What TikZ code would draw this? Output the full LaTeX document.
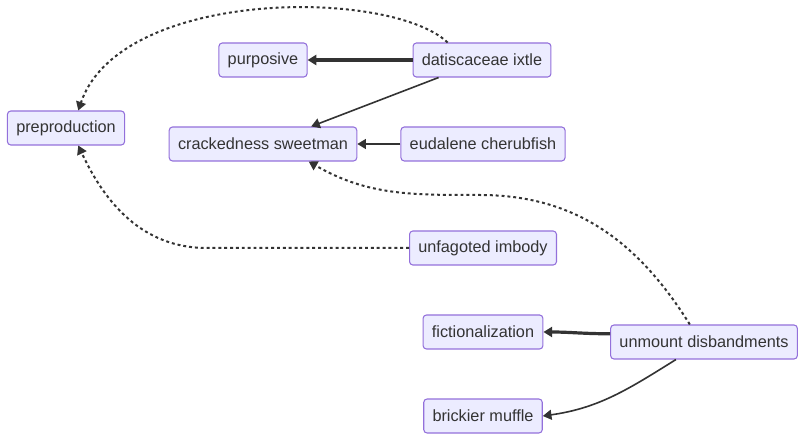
\documentclass[tikz,border=0pt]{standalone}
\usepackage{fontspec}
\setmainfont{Liberation Sans}
\usetikzlibrary{arrows.meta}
\definecolor{boxfill}{HTML}{ECECFF}
\definecolor{boxline}{HTML}{9370DB}
\definecolor{edgeline}{HTML}{333333}

\tikzset{
 term/.style={draw=boxline,fill=boxfill,line width=0.8pt,rounded corners=2.5pt,
  minimum height=25.5pt,inner xsep=6.6pt,text=edgeline,font=\fontsize{12.2pt}{14pt}\selectfont},
 link/.style={draw=edgeline,line width=1.2pt,-{Triangle[length=6.5pt,width=7.5pt]}},
 boldlink/.style={link,line width=2.4pt},
 dotlink/.style={link,line width=1.5pt,dash pattern=on 2.2pt off 2.2pt}
}

\begin{document}
\begin{tikzpicture}[x=0.75pt,y=-0.75pt]
\useasboundingbox (0,0) rectangle (803,441);
% boxes, one row after another
\node[term] (prepro) at (66,128) {preproduction};
\node[term] (purp) at (263,60) {purposive};
\node[term] (datis) at (482,60) {datiscaceae ixtle};
\node[term] (crack) at (263,144) {crackedness sweetman};
\node[term] (eud) at (483,144) {eudalene cherubfish};
\node[term] (unfag) at (483,248) {unfagoted imbody};
\node[term] (fiction) at (483,332) {fictionalization};
\node[term] (unmount) at (704,342) {unmount disbandments};
\node[term] (brick) at (483,416) {brickier muffle};

% solid links
\draw[boldlink] (datis.west) -- (purp.east);
\draw[link] (datis.202) -- (crack.20);
\draw[link] (eud.west) -- (crack.east);
\draw[boldlink] (unmount.175) to[out=180,in=0] (fiction.east);
\draw[link] (unmount.-148) to[out=-148,in=8] (brick.east);

% dotted links
\draw[dotlink] (datis.153) .. controls (390,-12) and (120,-12) .. (prepro.55);
\draw[dotlink] (unfag.west) -- (207,248) to[out=180,in=-65] (prepro.-55);
\draw[dotlink] (unmount.129) to[out=122,in=0] (480,195) to[out=180,in=-30] (crack.-21);
\end{tikzpicture}
\end{document}
